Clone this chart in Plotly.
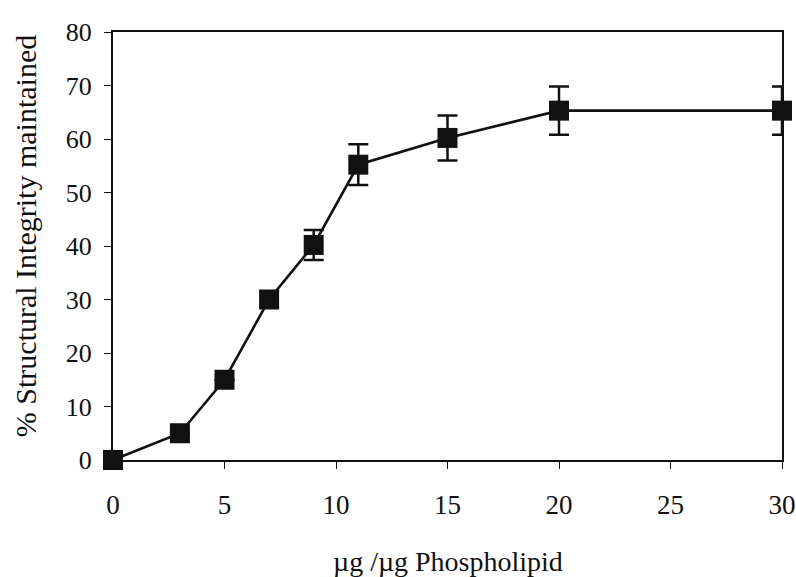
import plotly.graph_objects as go

x_vals = [0, 3, 5, 7, 9, 11, 15, 20, 30]
y_vals = [0, 5, 15, 30, 40.2, 55.2, 60.2, 65.3, 65.3]
y_err = [0, 0, 0, 1.5, 2.8, 3.8, 4.2, 4.5, 4.5]
x_ticks = [0, 5, 10, 15, 20, 25, 30]
y_ticks = [0, 10, 20, 30, 40, 50, 60, 70, 80]
x_title = "µg /µg Phospholipid"
y_title = "% Structural Integrity maintained"

font_family = "Liberation Serif, Times New Roman, DejaVu Serif, serif"
ink = "#111111"

fig = go.Figure()
fig.add_trace(go.Scatter(
    x=x_vals, y=y_vals,
    mode="lines+markers",
    line=dict(color=ink, width=2.6),
    marker=dict(symbol="square", size=20, color=ink),
    error_y=dict(type="data", array=y_err, visible=True,
                 color=ink, thickness=2.5, width=10),
    cliponaxis=False,
    showlegend=False,
))

fig.update_layout(
    width=796, height=577,
    margin=dict(l=113, r=14, t=32, b=117),
    paper_bgcolor="white", plot_bgcolor="white",
    font=dict(family=font_family, size=26, color=ink),
    xaxis=dict(
        range=[0, 30], tickvals=x_ticks, ticktext=[str(v) for v in x_ticks],
        showgrid=False, zeroline=False, automargin=False,
        showline=True, linecolor=ink, linewidth=2, mirror=True,
        ticks="outside", ticklen=7, tickwidth=1.3, tickcolor=ink,
        ticklabelstandoff=13,
        tickfont=dict(family=font_family, size=27),
    ),
    yaxis=dict(
        range=[0, 80], tickvals=y_ticks, ticktext=[str(v) for v in y_ticks],
        showgrid=False, zeroline=False, automargin=False,
        showline=True, linecolor=ink, linewidth=2, mirror=True,
        ticks="outside", ticklen=7, tickwidth=1.3, tickcolor=ink,
        ticklabelstandoff=7,
        tickfont=dict(family=font_family, size=26),
    ),
    xaxis2=dict(
        overlaying="x", anchor="y", side="bottom", range=[0, 30],
        tickvals=x_ticks, showticklabels=False, showgrid=False,
        zeroline=False, showline=False, automargin=False,
        ticks="inside", ticklen=7, tickwidth=1.3, tickcolor=ink,
    ),
    yaxis2=dict(
        overlaying="y", anchor="x", side="left", range=[0, 80],
        tickvals=y_ticks, showticklabels=False, showgrid=False,
        zeroline=False, showline=False, automargin=False,
        ticks="inside", ticklen=7, tickwidth=1.3, tickcolor=ink,
    ),
    annotations=[
        dict(text=x_title, xref="paper", yref="paper", x=0.5, y=-0.236,
             xanchor="center", yanchor="middle", showarrow=False,
             font=dict(family=font_family, size=28, color=ink)),
        dict(text=y_title, xref="paper", yref="paper", x=-0.1315, y=0.523,
             xanchor="center", yanchor="middle", showarrow=False,
             textangle=-90,
             font=dict(family=font_family, size=30, color=ink)),
    ],
)

fig.write_html("out.html")
